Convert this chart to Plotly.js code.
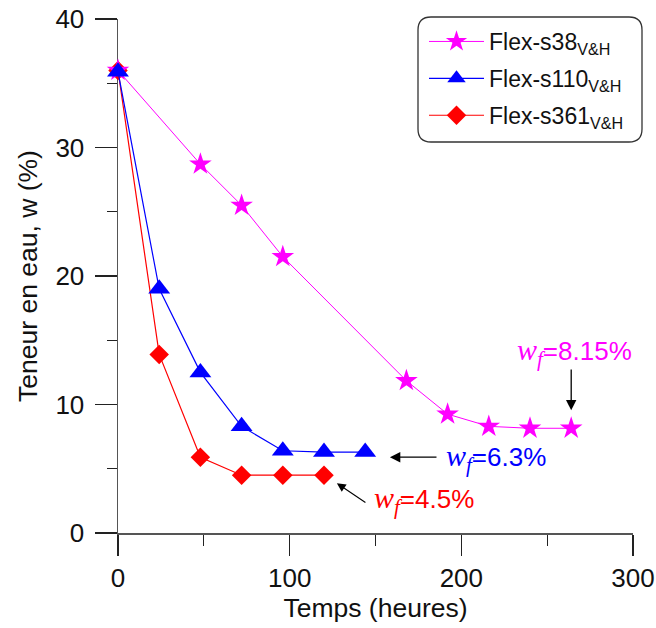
<!DOCTYPE html>
<html><head><meta charset="utf-8">
<script src="https://cdn.plot.ly/plotly-3.0.1.min.js"></script>
<style>html,body{margin:0;padding:0;background:#fff}#chart{width:656px;height:628px}</style>
</head><body><div id="chart"></div>
<script>
// ---- data ----
const timeS38 = [0, 48, 72, 96, 168, 192, 216, 240, 264];
const wS38 = [36, 28.7, 25.5, 21.5, 11.85, 9.25, 8.3, 8.15, 8.15];
const timeS110 = [0, 24, 48, 72, 96, 120, 144];
const wS110 = [35.9, 19, 12.5, 8.3, 6.4, 6.3, 6.3];
const timeS361 = [0, 24, 48, 72, 96, 120];
const wS361 = [36, 13.9, 5.9, 4.5, 4.5, 4.5];
const seriesNames = ['Flex-s38', 'Flex-s110', 'Flex-s361'];
const seriesSub = 'V&amp;H';
const finalLabels = ['8.15%', '6.3%', '4.5%'];
const xTickVals = [0, 100, 200, 300];
const yTickVals = [0, 10, 20, 30, 40];
const xTitle = 'Temps (heures)';
const yTitle = 'Teneur en eau, w (%)';

// ---- styling ----
const W = 656, H = 628;
const M = {l: 118, r: 23, t: 19, b: 95};
const PW = W - M.l - M.r, PH = H - M.t - M.b;
const SANS = 'Liberation Sans, Arial, sans-serif';
const C38 = '#ff00ff', C110 = '#0000ff', C361 = '#ff0000';

function legName(i) { return seriesNames[i] + '<sub>' + seriesSub + '</sub>'; }

const traces = [
  {x: timeS361, y: wS361, name: legName(2), mode: 'lines+markers', legendrank: 3, legendgroup: 'c',
   line: {color: C361, width: 1.2}, marker: {symbol: 'diamond', size: 15, color: C361},
   cliponaxis: false},
  {x: timeS38, y: wS38, name: legName(0), mode: 'lines+markers', legendrank: 1, legendgroup: 'a',
   line: {color: C38, width: 1}, marker: {symbol: 'star', size: 17, color: C38},
   cliponaxis: false},
  {x: timeS110, y: wS110, name: legName(1), mode: 'lines+markers', legendrank: 2, legendgroup: 'b',
   line: {color: C110, width: 1.2}, marker: {symbol: 'triangle-up', size: 19, color: C110},
   cliponaxis: false}
];

function px2paperX(p) { return (p - M.l) / PW; }
function px2paperY(p) { return (H - M.b - p) / PH; }
// rounded legend frame
const bx0 = px2paperX(418), bx1 = px2paperX(642), by1 = px2paperY(17), by0 = px2paperY(142);
const rx = 13 / PW, ry = 13 / PH;
const framePath = 'M' + (bx0 + rx) + ',' + by1 + ' L' + (bx1 - rx) + ',' + by1 +
  ' Q' + bx1 + ',' + by1 + ' ' + bx1 + ',' + (by1 - ry) +
  ' L' + bx1 + ',' + (by0 + ry) + ' Q' + bx1 + ',' + by0 + ' ' + (bx1 - rx) + ',' + by0 +
  ' L' + (bx0 + rx) + ',' + by0 + ' Q' + bx0 + ',' + by0 + ' ' + bx0 + ',' + (by0 + ry) +
  ' L' + bx0 + ',' + (by1 - ry) + ' Q' + bx0 + ',' + by1 + ' ' + (bx0 + rx) + ',' + by1 + ' Z';

function wfText(v) {
  return '<span style="font-family:Liberation Serif;font-size:30px"><i>w<sub>f</sub></i></span>=' + v;
}
const last = (a) => a[a.length - 1];
const arrowBase = {xref: 'x', yref: 'y', axref: 'x', ayref: 'y', text: '', showarrow: true,
  arrowhead: 2, arrowsize: 1.6, arrowwidth: 1.3, arrowcolor: '#000'};

const annotations = [
  // Flex-s38
  Object.assign({}, arrowBase, {x: last(timeS38), y: last(wS38) + 1.4, ax: last(timeS38), ay: last(wS38) + 4.7}),
  {xref: 'x', yref: 'y', x: last(timeS38) + 2, y: last(wS38) + 5.9, text: wfText(finalLabels[0]), showarrow: false,
   xanchor: 'center', yanchor: 'middle', font: {family: SANS, size: 26, color: C38}},
  // Flex-s110
  Object.assign({}, arrowBase, {x: last(timeS110) + 14.4, y: last(wS110) - 0.4, ax: last(timeS110) + 42.4, ay: last(wS110) - 0.4}),
  {xref: 'x', yref: 'y', x: last(timeS110) + 46, y: last(wS110) - 0.5, text: wfText(finalLabels[1]), showarrow: false,
   xanchor: 'left', yanchor: 'middle', font: {family: SANS, size: 26, color: C110}},
  // Flex-s361
  Object.assign({}, arrowBase, {x: last(timeS361) + 7.5, y: last(wS361) - 0.63, ax: last(timeS361) + 25, ay: last(wS361) - 2.2, arrowwidth: 1.1}),
  {xref: 'x', yref: 'y', x: last(timeS361) + 28, y: last(wS361) - 1.9, text: wfText(finalLabels[2]), showarrow: false,
   xanchor: 'left', yanchor: 'middle', font: {family: SANS, size: 26, color: C361}}
];

const axisCommon = {
  showgrid: false, zeroline: false, showline: true, linecolor: '#555', linewidth: 1.5,
  ticks: 'outside', tickcolor: '#222', tickwidth: 1.3, layer: 'below traces',
  tickfont: {family: SANS, size: 26, color: '#111'}
};

const layout = {
  width: W, height: H, margin: M, paper_bgcolor: '#fff', plot_bgcolor: '#fff',
  font: {family: SANS, color: '#111'},
  xaxis: Object.assign({}, axisCommon, {
    range: [0, 300], tickvals: xTickVals, ticklen: 21,
    minor: {dtick: 50, ticks: 'outside', ticklen: 11, tickcolor: '#222', tickwidth: 1.3},
    title: {text: xTitle, font: {family: SANS, size: 26.5, color: '#111'}, standoff: 4}
  }),
  yaxis: Object.assign({}, axisCommon, {
    range: [0, 40], tickvals: yTickVals, ticklen: 22, ticklabelstandoff: 5,
    minor: {dtick: 5, ticks: 'outside', ticklen: 10, tickcolor: '#222', tickwidth: 1.3},
    title: {text: yTitle, font: {family: SANS, size: 26.5, color: '#111'}, standoff: 10}
  }),
  showlegend: true,
  legend: {x: px2paperX(424), y: px2paperY(20), xanchor: 'left', yanchor: 'top',
    bgcolor: 'rgba(0,0,0,0)', borderwidth: 0, itemwidth: 55,
    font: {family: SANS, size: 23, color: '#111'}, tracegroupgap: 4},
  shapes: [{type: 'path', xref: 'paper', yref: 'paper', path: framePath, layer: 'above',
    line: {color: '#333', width: 1.3}, fillcolor: 'rgba(0,0,0,0)'}],
  annotations: annotations
};

Plotly.newPlot('chart', traces, layout, {displayModeBar: false, staticPlot: true});
</script>
</body></html>
